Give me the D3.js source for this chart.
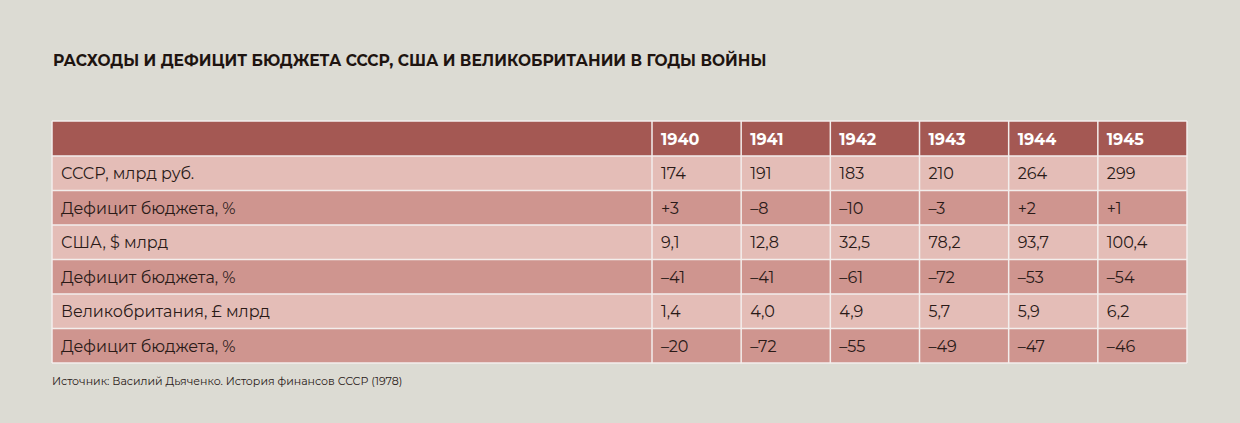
<!DOCTYPE html>
<html><head><meta charset="utf-8">
<script src="https://cdn.jsdelivr.net/npm/d3@7"></script>
<style>body{margin:0;background:#dcdbd3;}svg{display:block;}</style>
</head><body>
<script>
const years = ["1940", "1941", "1942", "1943", "1944", "1945"];
const rowLabels = [
    "СССР, млрд руб.", "Дефицит бюджета, %",
    "США, $ млрд", "Дефицит бюджета, %",
    "Великобритания, £ млрд", "Дефицит бюджета, %"
];
const ussr = ["174", "191", "183", "210", "264", "299"];
const ussrDeficit = ["+3", "–8", "–10", "–3", "+2", "+1"];
const usa = ["9,1", "12,8", "32,5", "78,2", "93,7", "100,4"];
const usaDeficit = ["–41", "–41", "–61", "–72", "–53", "–54"];
const uk = ["1,4", "4,0", "4,9", "5,7", "5,9", "6,2"];
const ukDeficit = ["–20", "–72", "–55", "–49", "–47", "–46"];
const rows = [ussr, ussrDeficit, usa, usaDeficit, uk, ukDeficit];

const width = 1240, height = 423;
const font = "Montserrat, 'Open Sans', sans-serif";
const svg = d3.select("body").append("svg").attr("width", width).attr("height", height);
svg.append("rect").attr("width", width).attr("height", height).attr("fill", "#dcdbd3");

svg.append("text").attr("x", 53).attr("y", 66)
    .style("font-family", font).style("font-weight", 700).style("font-size", "15.5px")
    .attr("fill", "#1e1410")
    .text("РАСХОДЫ И ДЕФИЦИТ БЮДЖЕТА СССР, США И ВЕЛИКОБРИТАНИИ В ГОДЫ ВОЙНЫ");

const left = 52, labelRight = 652, right = 1187;
const headTop = 121, headBottom = 156, bottom = 363;
const x = d3.scaleBand().domain(years).range([labelRight, right]);
const y = d3.scaleBand().domain(d3.range(rows.length)).range([headBottom, bottom]);

// header
svg.append("rect").attr("x", left).attr("y", headTop)
    .attr("width", right - left).attr("height", headBottom - headTop).attr("fill", "#a45853");
svg.selectAll(".year").data(years).join("text")
    .attr("x", d => x(d) + 9).attr("y", (headTop + headBottom) / 2 + 6)
    .style("font-family", font).style("font-weight", 700).style("font-size", "16px")
    .attr("fill", "#fff").text(d => d);

// body rows
const g = svg.selectAll(".row").data(rows).join("g")
    .attr("transform", (d, i) => `translate(0,${y(i)})`);
g.append("rect").attr("x", left).attr("width", right - left).attr("height", y.bandwidth())
    .attr("fill", (d, i) => i % 2 ? "#cf958f" : "#e4bdb7");
g.append("text").attr("x", 61).attr("y", y.bandwidth() / 2 + 6)
    .style("font-family", font).style("font-size", "16px").attr("fill", "#2a1a17")
    .text((d, i) => rowLabels[i]);
g.selectAll(".cell").data(d => d).join("text")
    .attr("x", (d, i) => x(years[i]) + 9).attr("y", y.bandwidth() / 2 + 6)
    .style("font-family", font).style("font-size", "16px").attr("fill", "#2a1a17")
    .text(d => d);

// grid lines
const grid = svg.append("g").attr("stroke", "#f3eeec").attr("stroke-width", 1.5);
grid.selectAll(".h").data([headTop, ...d3.range(rows.length).map(i => y(i)), bottom]).join("line")
    .attr("x1", left).attr("x2", right).attr("y1", d => d).attr("y2", d => d);
grid.selectAll(".v").data([left, ...years.map(d => x(d)), right]).join("line")
    .attr("x1", d => d).attr("x2", d => d).attr("y1", headTop).attr("y2", bottom);

svg.append("text").attr("x", 52).attr("y", 385)
    .style("font-family", font).style("font-size", "11px").attr("fill", "#2a1a17")
    .text("Источник: Василий Дьяченко. История финансов СССР (1978)");
</script>
</body></html>
